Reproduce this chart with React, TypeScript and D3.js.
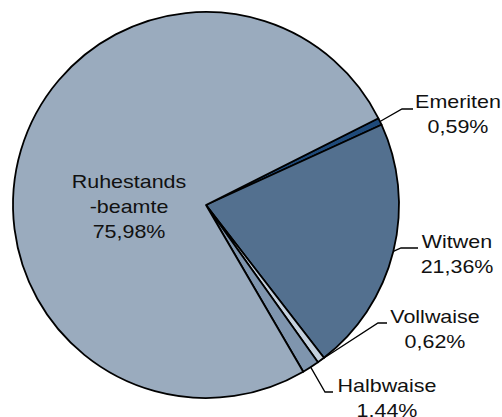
import * as d3 from "d3";

// Anteile in Prozent, Reihenfolge im Uhrzeigersinn ab Emeriten
const categories = ["Emeriten", "Witwen", "Vollwaise", "Halbwaise", "Ruhestandsbeamte"];
const shares = [0.59, 21.36, 0.62, 1.44, 75.98];
const labelLines = [
  ["Emeriten", "0,59%"],
  ["Witwen", "21,36%"],
  ["Vollwaise", "0,62%"],
  ["Halbwaise", "1,44%"],
  ["Ruhestands", "-beamte", "75,98%"],
];
const colors = ["#1f4a7a", "#53708f", "#c4d0dd", "#7f95ae", "#9aabbe"];

// Label-Layout (Textmitte, erste Grundlinie); null = keine Führungslinie
const labelPos = [
  { x: 458, y: 108, elbow: [402, 109], end: 413 },
  { x: 457, y: 248, elbow: [401, 248], end: 418 },
  { x: 435, y: 323, elbow: [378, 323], end: 387 },
  { x: 387, y: 392, elbow: [325, 392], end: 333 },
  { x: 129, y: 188, elbow: null, end: 0 },
];

const W = 502;
const H = 417;
const cx = 206;
const cy = 205;
const radius = 193;
const start = (63.3 * Math.PI) / 180;

export default function App() {
  const pie = d3
    .pie<number>()
    .sort(null)
    .startAngle(start)
    .endAngle(start + 2 * Math.PI);
  const arcs = pie(shares);
  const arc = d3.arc<d3.PieArcDatum<number>>().innerRadius(0).outerRadius(radius);
  const edge = d3.arc<d3.PieArcDatum<number>>().innerRadius(radius).outerRadius(radius);

  return (
    <svg
      width={W}
      height={H}
      style={{ position: "absolute", left: 0, top: 0 }}
      fontFamily="'Liberation Sans', Arial, sans-serif"
    >
      <rect width={W} height={H} fill="#fff" />
      <g transform={`translate(${cx},${cy})`}>
        {arcs.map((a, i) => (
          <path
            key={categories[i]}
            d={arc(a) || ""}
            fill={colors[i]}
            stroke="#000"
            strokeWidth={1.8}
            strokeLinejoin="round"
          />
        ))}
      </g>
      {arcs.map((a, i) => {
        const p = labelPos[i];
        if (!p.elbow) return null;
        const [ex, ey] = edge.centroid(a);
        return (
          <polyline
            key={"l" + i}
            points={`${cx + ex},${cy + ey} ${p.elbow[0]},${p.elbow[1]} ${p.end},${p.elbow[1]}`}
            fill="none"
            stroke="#000"
            strokeWidth={1.3}
          />
        );
      })}
      {labelLines.map((lines, i) => (
        <g key={"t" + i}>
          {lines.map((s, j) => (
            <text
              key={j}
              transform={`translate(${labelPos[i].x},${labelPos[i].y + j * 25}) scale(1.16,1)`}
              textAnchor="middle"
              fontSize={18.5}
              fill="#111"
            >
              {s}
            </text>
          ))}
        </g>
      ))}
    </svg>
  );
}
